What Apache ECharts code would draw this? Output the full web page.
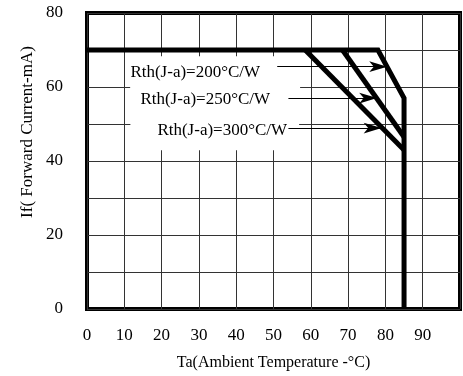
<!DOCTYPE html>
<html>
<head>
<meta charset="utf-8">
<script src="https://cdn.jsdelivr.net/npm/echarts@6/dist/echarts.min.js"></script>
<style>
  html, body { margin: 0; padding: 0; background: #fff; }
  #chart { width: 463px; height: 376px; }
</style>
</head>
<body>
<div id="chart"></div>
<script>
// derating curves, Ta (°C) vs If (mA)
const rth200 = [[0, 70], [78, 70], [85, 57], [85, 0]];
const rth250 = [[68.5, 70], [85, 46.5]];
const rth300 = [[58.5, 70], [85, 43]];

const noteLabels = ["Rth(J-a)=200°C/W", "Rth(J-a)=250°C/W", "Rth(J-a)=300°C/W"];
const notePos = [[11.5, 64.0], [11.5, 56.6], [11.5, 48.2]];
const arrowFrom = [[51, 65.5], [54, 57], [54, 48.9]];
const arrowTo = [[80.5, 65.5], [77.8, 57], [79, 48.9]];

const font = "Liberation Serif";

// white area behind each note, the gridlines are cut out there
const notePad = [[9, 38, 6, 0], [5, 30, 8, 10], [7, 12, 15, 27]];

const chart = echarts.init(document.getElementById("chart"));

const curve = (data) => ({
  type: "line",
  data: data,
  showSymbol: false,
  symbol: "none",
  lineStyle: { color: "#000", width: 5, join: "miter" },
  z: 5,
});

const option = {
  backgroundColor: "#fff",
  animation: false,
  grid: {
    left: 87,
    right: 3,
    top: 13,
    bottom: 66,
    show: true,
    borderColor: "#000",
    borderWidth: 4,
  },
  xAxis: {
    type: "value",
    min: 0,
    max: 100,
    interval: 10,
    name: "Ta(Ambient Temperature -°C)",
    nameLocation: "middle",
    nameGap: 46,
    nameTextStyle: { fontFamily: font, fontSize: 16, color: "#000" },
    axisLine: { show: false },
    axisTick: { show: false },
    axisLabel: {
      margin: 18,
      fontFamily: font,
      fontSize: 17,
      color: "#000",
      formatter: (v) => (v === 100 ? "" : String(v)),
    },
    splitLine: { show: true, lineStyle: { color: "#333", width: 1 } },
  },
  yAxis: {
    type: "value",
    min: 0,
    max: 80,
    interval: 10,
    axisLine: { show: false },
    axisTick: { show: false },
    axisLabel: {
      margin: 24,
      fontFamily: font,
      fontSize: 17,
      color: "#000",
      formatter: (v) => (v % 20 === 0 ? String(v) : ""),
    },
    splitLine: { show: true, lineStyle: { color: "#333", width: 1 } },
  },
  graphic: [
    {
      type: "text",
      x: 28,
      y: 132,
      rotation: Math.PI / 2,
      style: {
        text: "If( Forward Current-mA)",
        font: "17px " + font,
        fill: "#000",
        textAlign: "center",
        textVerticalAlign: "middle",
      },
    },
  ],
  series: [
    curve(rth200),
    curve(rth250),
    Object.assign(curve(rth300), {
      markLine: {
        silent: true,
        symbol: ["none", "arrow"],
        symbolSize: [8, 18],
        label: { show: false },
        lineStyle: { color: "#000", width: 1, type: "solid" },
        data: arrowFrom.map((p, i) => [{ coord: p }, { coord: arrowTo[i] }]),
        z: 4,
      },
      markPoint: {
        silent: true,
        symbol: "rect",
        symbolSize: 1,
        itemStyle: { color: "rgba(0,0,0,0)" },
        label: {
          show: true,
          position: "right",
          distance: 0,
          fontFamily: font,
          fontSize: 17,
          color: "#000",
          backgroundColor: "#fff",
          formatter: (p) => p.name,
        },
        data: noteLabels.map((t, i) => ({
          name: t,
          coord: notePos[i],
          label: { padding: notePad[i] },
        })),
        z: 3,
      },
    }),
  ],
};

chart.setOption(option);
</script>
</body>
</html>
